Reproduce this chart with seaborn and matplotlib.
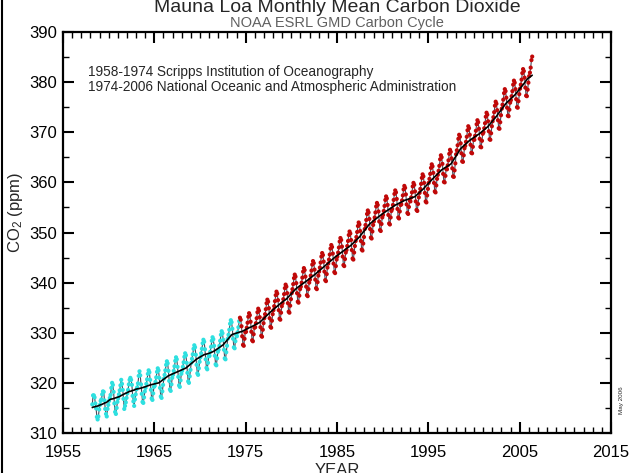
import numpy as np
import pandas as pd
import matplotlib
matplotlib.use("Agg")
import matplotlib.pyplot as plt
import seaborn as sns
from matplotlib.ticker import MultipleLocator

# ---------------- data ----------------
years = list(range(1958, 2007))
first_month_1958 = 3          # record starts March 1958
scripps_end = 1974.3          # Scripps record -> NOAA record

monthly_ppm = [
    [315.7, 317.5, 317.5, 317.1, 315.9, 314.9, 313.2, 312.7, 313.3, 314.7],               # 1958 (Mar-Dec)
    [315.6, 316.4, 316.7, 317.7, 318.3, 318.2, 316.5, 314.8, 313.8, 313.3, 314.8, 315.6],  # 1959
    [316.4, 317.0, 317.6, 319.0, 320.0, 319.6, 318.2, 315.9, 314.2, 313.8, 315.0, 316.2],  # 1960
    [316.9, 317.7, 318.5, 319.5, 320.6, 319.8, 318.6, 316.8, 314.8, 315.4, 316.1, 317.0],  # 1961
    [317.9, 318.6, 319.7, 320.6, 321.0, 320.6, 319.6, 317.4, 316.3, 315.4, 316.7, 317.7],  # 1962
    [318.7, 319.1, 319.9, 321.4, 322.3, 321.5, 319.7, 317.8, 316.2, 316.0, 317.1, 318.3],  # 1963
    [319.0, 319.8, 320.7, 321.8, 322.5, 322.1, 320.6, 318.6, 316.9, 316.6, 317.9, 319.2],  # 1964
    [319.4, 320.2, 321.1, 322.2, 322.9, 322.5, 321.0, 319.0, 317.3, 317.0, 318.3, 319.6],  # 1965
    [320.8, 321.6, 322.5, 323.6, 324.3, 323.9, 322.4, 320.4, 318.7, 318.4, 319.7, 321.0],  # 1966
    [321.6, 322.4, 323.3, 324.4, 325.1, 324.7, 323.2, 321.2, 319.5, 319.2, 320.5, 321.8],  # 1967
    [322.4, 323.2, 324.1, 325.2, 325.9, 325.5, 324.0, 322.0, 320.3, 320.0, 321.3, 322.6],  # 1968
    [324.0, 324.8, 325.7, 326.8, 327.5, 327.1, 325.6, 323.6, 321.9, 321.6, 322.9, 324.2],  # 1969
    [325.1, 325.9, 326.8, 327.9, 328.6, 328.2, 326.7, 324.7, 323.0, 322.7, 324.0, 325.3],  # 1970
    [325.4, 326.2, 327.2, 328.4, 329.1, 328.7, 327.4, 325.4, 323.7, 323.5, 324.9, 326.2],  # 1971
    [326.6, 327.4, 328.4, 329.6, 330.3, 329.9, 328.6, 326.6, 324.9, 324.7, 326.1, 327.4],  # 1972
    [328.8, 329.6, 330.6, 331.8, 332.5, 332.1, 330.8, 328.8, 327.1, 326.9, 328.3, 329.6],  # 1973
    [329.3, 330.1, 331.1, 332.3, 333.0, 332.6, 331.3, 329.3, 327.6, 327.4, 328.8, 330.1],  # 1974
    [330.2, 331.0, 332.0, 333.2, 333.9, 333.5, 332.2, 330.2, 328.5, 328.3, 329.7, 331.0],  # 1975
    [331.1, 331.9, 332.9, 334.1, 334.8, 334.4, 333.1, 331.1, 329.4, 329.2, 330.6, 331.9],  # 1976
    [332.9, 333.7, 334.7, 335.9, 336.6, 336.2, 334.9, 332.9, 331.2, 331.0, 332.4, 333.7],  # 1977
    [334.5, 335.3, 336.3, 337.5, 338.2, 337.8, 336.5, 334.5, 332.8, 332.6, 334.0, 335.3],  # 1978
    [335.9, 336.7, 337.7, 338.9, 339.6, 339.2, 337.9, 335.9, 334.2, 334.0, 335.4, 336.7],  # 1979
    [337.9, 338.7, 339.7, 340.9, 341.6, 341.2, 339.9, 337.9, 336.2, 336.0, 337.4, 338.7],  # 1980
    [339.2, 340.0, 341.0, 342.2, 342.9, 342.5, 341.2, 339.2, 337.5, 337.3, 338.7, 340.0],  # 1981
    [340.6, 341.4, 342.4, 343.6, 344.3, 343.9, 342.6, 340.6, 338.9, 338.7, 340.1, 341.4],  # 1982
    [342.2, 343.0, 344.0, 345.2, 345.9, 345.5, 344.2, 342.2, 340.5, 340.3, 341.7, 343.0],  # 1983
    [343.8, 344.6, 345.6, 346.8, 347.5, 347.1, 345.8, 343.8, 342.1, 341.9, 343.3, 344.6],  # 1984
    [345.2, 346.0, 347.0, 348.2, 348.9, 348.5, 347.2, 345.2, 343.5, 343.3, 344.7, 346.0],  # 1985
    [346.5, 347.3, 348.3, 349.5, 350.2, 349.8, 348.5, 346.5, 344.8, 344.6, 346.0, 347.3],  # 1986
    [348.3, 349.1, 350.1, 351.3, 352.0, 351.6, 350.3, 348.3, 346.6, 346.4, 347.8, 349.1],  # 1987
    [350.7, 351.5, 352.5, 353.7, 354.4, 354.0, 352.7, 350.7, 349.0, 348.8, 350.2, 351.5],  # 1988
    [352.2, 353.0, 354.0, 355.2, 355.9, 355.5, 354.2, 352.2, 350.5, 350.3, 351.7, 353.0],  # 1989
    [353.5, 354.3, 355.3, 356.5, 357.2, 356.8, 355.5, 353.5, 351.8, 351.6, 353.0, 354.3],  # 1990
    [354.7, 355.5, 356.5, 357.7, 358.4, 358.0, 356.7, 354.7, 353.0, 352.8, 354.2, 355.5],  # 1991
    [355.6, 356.4, 357.4, 358.6, 359.3, 358.9, 357.6, 355.6, 353.9, 353.7, 355.1, 356.4],  # 1992
    [356.2, 357.0, 358.0, 359.2, 359.9, 359.5, 358.2, 356.2, 354.5, 354.3, 355.7, 357.0],  # 1993
    [357.9, 358.7, 359.7, 360.9, 361.6, 361.2, 359.9, 357.9, 356.2, 356.0, 357.4, 358.7],  # 1994
    [359.9, 360.7, 361.7, 362.9, 363.6, 363.2, 361.9, 359.9, 358.2, 358.0, 359.4, 360.7],  # 1995
    [361.5, 362.3, 363.3, 364.6, 365.4, 365.0, 363.7, 361.7, 360.1, 360.0, 361.3, 362.7],  # 1996
    [362.6, 363.4, 364.4, 365.7, 366.5, 366.1, 364.8, 362.8, 361.2, 361.1, 362.4, 363.8],  # 1997
    [365.6, 366.4, 367.4, 368.7, 369.5, 369.1, 367.8, 365.8, 364.2, 364.1, 365.4, 366.8],  # 1998
    [367.3, 368.1, 369.1, 370.4, 371.2, 370.8, 369.5, 367.5, 365.9, 365.8, 367.1, 368.5],  # 1999
    [368.5, 369.3, 370.3, 371.6, 372.4, 372.0, 370.7, 368.7, 367.1, 367.0, 368.3, 369.7],  # 2000
    [370.0, 370.8, 371.8, 373.1, 373.9, 373.5, 372.2, 370.2, 368.6, 368.5, 369.8, 371.2],  # 2001
    [372.2, 373.0, 374.0, 375.3, 376.1, 375.7, 374.4, 372.4, 370.8, 370.7, 372.0, 373.4],  # 2002
    [374.7, 375.5, 376.5, 377.8, 378.6, 378.2, 376.9, 374.9, 373.3, 373.2, 374.5, 375.9],  # 2003
    [376.4, 377.2, 378.2, 379.5, 380.3, 379.9, 378.6, 376.6, 375.0, 374.9, 376.2, 377.6],  # 2004
    [378.7, 379.5, 380.5, 381.8, 382.6, 382.2, 380.9, 378.9, 377.3, 377.2, 378.5, 379.9],  # 2005
    [381.2, 381.9, 382.9, 384.4, 385.1],                                                   # 2006 (Jan-May)
]

title = "Mauna Loa Monthly Mean Carbon Dioxide"
subtitle = "NOAA ESRL GMD Carbon Cycle"
legend_lines = ["1958-1974 Scripps Institution of Oceanography",
                "1974-2006 National Oceanic and Atmospheric Administration"]
x_ticks = [1955, 1965, 1975, 1985, 1995, 2005, 2015]
y_ticks = [310, 320, 330, 340, 350, 360, 370, 380, 390]

# ---------------- build table ----------------
rows = []
for yr, vals in zip(years, monthly_ppm):
    m0 = first_month_1958 if yr == years[0] else 1
    for k, v in enumerate(vals):
        m = m0 + k
        rows.append({"year": yr, "month": m, "date": yr + (m - 0.5) / 12.0, "ppm": v})
df = pd.DataFrame(rows)
df["source"] = np.where(df["date"] < scripps_end, "Scripps", "NOAA")

# de-seasonalised trend line
roll = df["ppm"].rolling(12, center=True).mean()
seasonal = (df["ppm"] - roll).groupby(df["month"]).mean()
df["trend"] = (df["ppm"] - df["month"].map(seasonal)).rolling(13, center=True, min_periods=1).mean()

# ---------------- style ----------------
sns.set_style("ticks")
plt.rcParams["font.family"] = ["Liberation Sans", "DejaVu Sans"]
plt.rcParams["mathtext.fontset"] = "custom"
plt.rcParams["mathtext.rm"] = "Liberation Sans"
plt.rcParams["mathtext.it"] = "Liberation Sans"

fig = plt.figure(figsize=(6.3, 4.73), dpi=100)
ax = fig.add_axes([0.1, 0.0846, 0.8698, 0.8477])

sns.lineplot(data=df, x="date", y="ppm", color="#4a4a5a", lw=0.8, ax=ax,
             estimator=None, sort=False, zorder=2)
sns.scatterplot(data=df, x="date", y="ppm", hue="source",
                palette={"Scripps": "#2ee0e0", "NOAA": "#c00808"},
                s=9, linewidth=0, legend=False, ax=ax, zorder=3)
sns.lineplot(data=df, x="date", y="trend", color="black", lw=1.2, ax=ax,
             estimator=None, sort=False, zorder=4)

ax.set_xlim(1955, 2015)
ax.set_ylim(310, 390)
ax.set_xticks(x_ticks)
ax.set_yticks(y_ticks)
ax.xaxis.set_minor_locator(MultipleLocator(1))
ax.yaxis.set_minor_locator(MultipleLocator(5))
ax.tick_params(which="both", direction="in", top=True, right=True, colors="black")
ax.tick_params(which="major", length=8, width=1.5, labelsize=12)
ax.tick_params(which="minor", length=4, width=1.0)
ax.tick_params(axis="x", which="major", pad=9)
ax.tick_params(axis="y", which="major", pad=4)
for sp in ax.spines.values():
    sp.set_visible(True)
    sp.set_linewidth(1.6)
    sp.set_color("black")
ax.set_xlabel("")
ax.set_ylabel("")

for i, line in enumerate(legend_lines):
    ax.text(0.0456, 0.900 - i * 0.037, line, transform=ax.transAxes,
            fontsize=9.8, va="center", ha="left")

fig.text(0.535, 0.975, title, ha="center", va="baseline", fontsize=14)
fig.text(0.535, 0.951, subtitle, ha="center", va="center", fontsize=10.5, color="#606060")
fig.text(0.024, 0.55, "CO$_{2}$ (ppm)", rotation=90, ha="center", va="center", fontsize=12)
fig.text(0.535, 0.021, "YEAR", ha="center", va="top", fontsize=12)
fig.text(0.986, 0.154, "May 2006", rotation=90, ha="center", va="center", fontsize=4.5)
fig.add_artist(plt.Line2D([0.003, 0.003], [0, 1], transform=fig.transFigure,
                          color="black", lw=1.5))

fig.savefig("out.png", dpi=100)
